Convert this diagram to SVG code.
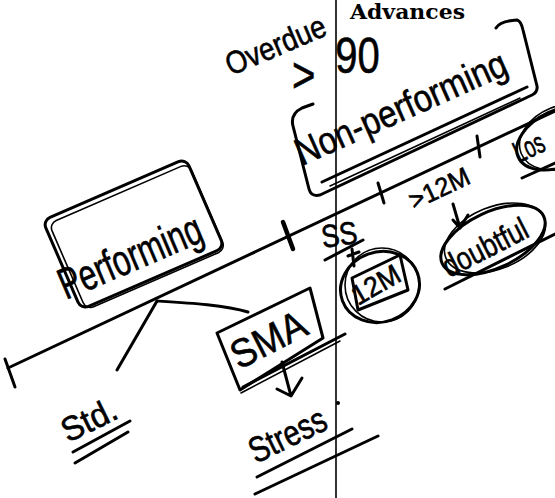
<svg xmlns="http://www.w3.org/2000/svg" width="555" height="498" viewBox="0 0 555 498">
<style>
.s{fill:none;stroke:#000;stroke-width:3;stroke-linecap:round;stroke-linejoin:round}
.t{stroke-width:1.6}
.k{stroke-width:4.5}
.h{font-family:"Liberation Sans","DejaVu Sans",sans-serif;fill:#000;stroke:#000;stroke-width:0.6}
</style>
<rect width="555" height="498" fill="#fff"/>
<g id="divider">
<line x1="336" y1="0" x2="336" y2="498" stroke="#000" stroke-width="1.6"/>
<text x="350" y="19" font-family="DejaVu Serif,Liberation Serif,serif" font-weight="bold" font-size="20" textLength="115" lengthAdjust="spacingAndGlyphs">Advances</text>
</g>
<g id="axis">
<path class="s" d="M8,368 L555,111"/>
<path class="s" d="M5,359 L15,387"/>
<path class="s k" d="M283,222 L293,249"/>
<path class="s" d="M378,183 L384,203" stroke-width="4"/>
<path class="s" d="M477,136 L480,157" stroke-width="4"/>
</g>
<g id="overdue">
<text class="h" transform="translate(231,76) rotate(-23)" font-size="32" textLength="106" lengthAdjust="spacingAndGlyphs">Overdue</text>
<text class="h" transform="translate(292,92) scale(0.8,1)" font-size="50"><tspan x="0" y="0">&gt;</tspan><tspan x="54" y="-19">90</tspan></text>
</g>
<g id="performing">
<rect class="s" x="-78" y="-48.5" width="156" height="97" rx="8" transform="translate(133.5,234) rotate(-23.4)"/>
<rect class="s t" x="-75" y="-46" width="152" height="94" rx="8" transform="translate(136,236) rotate(-23.4)"/>
<text class="h" transform="translate(66,300) rotate(-23)" font-size="44" textLength="152" lengthAdjust="spacingAndGlyphs">Performing</text>
</g>
<g id="non-performing">
<path class="s" d="M496,28 Q500,21 517,20 Q521,21 523,30 L537,86 Q538,92 532,95 L320,195 Q311,197 309,189 L293,126 Q290,114 302,108 L313,104"/>
<path class="s" d="M322,182 L527,87"/>
<path class="s t" d="M330,186 L520,98"/>
<text class="h" transform="translate(302,166) rotate(-24)" font-size="38" textLength="228" lengthAdjust="spacingAndGlyphs">Non-performing</text>
</g>
<g id="ss">
<text class="h" transform="translate(323,248) rotate(-8)" font-size="32" textLength="36" lengthAdjust="spacingAndGlyphs">SS</text>
<path class="s" d="M325,260 L363,240"/>
</g>
<g id="m12">
<ellipse class="s" cx="380" cy="287" rx="40" ry="35" transform="rotate(-20 380 287)"/>
<ellipse class="s t" cx="382" cy="285" rx="37" ry="37"/>
<path class="s" d="M352,278 L400,255 L408,290 L358,310 Z"/>
<text class="h" transform="translate(358,306) rotate(-30)" font-size="28" textLength="52" lengthAdjust="spacingAndGlyphs">12M</text>
</g>
<g id="gt12m">
<text class="h" transform="translate(414,210) rotate(-25)" font-size="26" textLength="64" lengthAdjust="spacingAndGlyphs">&gt;12M</text>
</g>
<g id="doubtful">
<ellipse class="s" cx="493" cy="240" rx="56" ry="28" transform="rotate(-25 493 240)"/>
<ellipse class="s t" cx="495" cy="238" rx="53" ry="31" transform="rotate(-22 495 238)"/>
<text class="h" transform="translate(449,278) rotate(-27)" font-size="32" textLength="92" lengthAdjust="spacingAndGlyphs">doubtful</text>
<path class="s" d="M445,289 L555,234"/>
</g>
<g id="loss">
<ellipse class="s" cx="560" cy="138" rx="46" ry="28" transform="rotate(-25 560 138)"/>
<ellipse class="s t" cx="562" cy="137" rx="44" ry="31" transform="rotate(-22 562 137)"/>
<text class="h" transform="translate(519,163) rotate(-25)" font-size="30" textLength="31" lengthAdjust="spacingAndGlyphs">Los</text>
<path class="s" d="M522,178 L555,163"/>
</g>
<g id="sma">
<path class="s" d="M217,333 L310,288 L323,338 L240,390 Z"/>
<path class="s" d="M243,387 L345,334"/>
<path class="s t" d="M241,393 L340,341"/>
<text class="h" transform="translate(239,370) rotate(-27)" font-size="40" textLength="80" lengthAdjust="spacingAndGlyphs">SMA</text>
</g>
<g id="std">
<text class="h" transform="translate(68,443) rotate(-26)" font-size="34" textLength="58" lengthAdjust="spacingAndGlyphs">Std.</text>
<path class="s" d="M73,452 L130,421"/>
<path class="s" d="M75,463 L128,432"/>
</g>
<g id="stress">
<text class="h" transform="translate(256,464) rotate(-26)" font-size="36" textLength="82" lengthAdjust="spacingAndGlyphs">Stress</text>
<circle cx="338" cy="403" r="2" fill="#000"/>
<path class="s" d="M257,477 L352,429"/>
<path class="s" d="M255,494 L378,436"/>
</g>
<g id="connectors">
<path class="s" d="M157,301 L117,370"/>
<path class="s" d="M157,301 C190,303 225,305 248,312"/>
<path class="s" d="M282,362 L291,396 M277,389 L291,396 L302,378"/>
<path class="s" d="M453,204 L460,228 M453,220 L460,228 L468,215"/>
<path class="s" d="M352,249 L354,266 M348,256 L359,252"/>
</g>
</svg>
